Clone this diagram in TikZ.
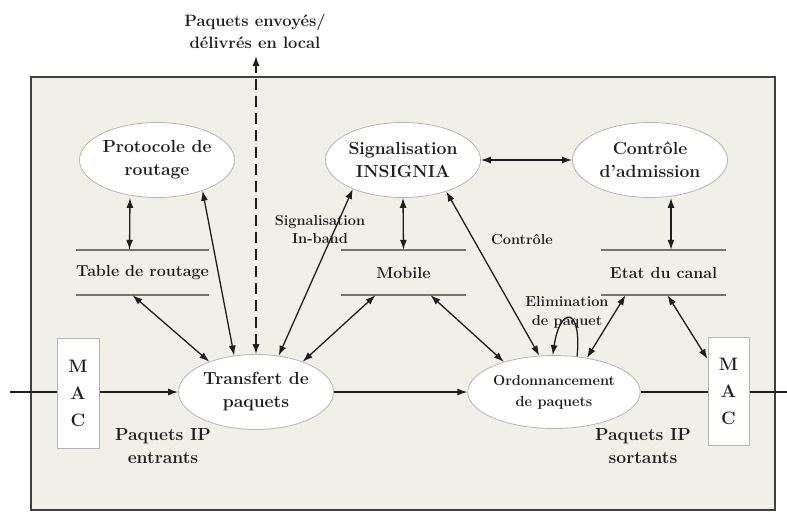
\documentclass[tikz,border=0pt]{standalone}
\usepackage{fontspec}
\usetikzlibrary{arrows.meta,shapes.geometric}

\definecolor{fond}{RGB}{240,240,233}
\definecolor{bord}{RGB}{180,180,178}
\definecolor{trait}{RGB}{115,115,112}
\definecolor{fleche}{RGB}{30,30,30}
\definecolor{texte}{RGB}{30,30,28}

\tikzset{
  >={Latex[length=10pt,width=7pt]},
  proc/.style={ellipse, draw=bord, fill=white, line width=0.8pt, minimum width=155pt,
    minimum height=75pt, inner sep=0pt, align=center, text=texte,
    font=\fontsize{17.5}{23}\selectfont\bfseries},
  store/.style={minimum width=124pt, minimum height=45pt, inner sep=0pt, text=texte,
    font=\fontsize{16}{20}\selectfont\bfseries},
  storeline/.style={draw=trait, line width=2pt},
  mac/.style={rectangle, draw=bord, fill=white, line width=1pt, minimum width=42pt,
    minimum height=110pt, inner sep=0pt, align=center, text=texte,
    font=\fontsize{18}{27}\selectfont\bfseries},
  lab/.style={align=center, text=texte, inner sep=0pt,
    font=\fontsize{14.5}{18}\selectfont\bfseries},
  biglab/.style={lab, font=\fontsize{17.5}{23}\selectfont\bfseries},
  wire/.style={draw=fleche, line width=1.3pt},
  link/.style={wire, <->},
  flow/.style={wire, ->}
}

\begin{document}
\begin{tikzpicture}[x=1pt, y=-1pt]
\useasboundingbox[fill=white] (0,0) rectangle (787,512);
\draw[fill=fond, draw=black!75, line width=2pt] (31,77) rectangle (775,510);

% processus
\node[proc] (proto) at (157,160) {Protocole de\\routage};
\node[proc] (signal) at (403,160) {Signalisation\\INSIGNIA};
\node[proc] (admis) at (650,160) {Contrôle\\d’admission};
\node[proc] (trans) at (256,392) {Transfert de\\paquets};
\node[proc, minimum width=154pt, minimum height=73pt,
  font=\fontsize{14.5}{21}\selectfont\bfseries] (ordo) at (554,392) {Ordonnancement\\de paquets};

% bases
\node[store] (table) at (142.5,272.5) {Table de routage};
\node[store] (mobile) at (403.5,272.5) {Mobile};
\node[store] (etat) at (663.5,272.5) {Etat du canal};
\foreach \s in {table,mobile,etat}
  \draw[storeline] (\s.north west) -- (\s.north east) (\s.south west) -- (\s.south east);

\node[mac] (macL) at (78,393) {M\\A\\C};
\node[mac, minimum width=41pt, minimum height=108pt] (macR) at (728.5,391) {M\\A\\C};

% textes
\node[biglab, font=\fontsize{16.5}{22}\selectfont\bfseries] (envoi) at (255,31) {Paquets envoyés/\\délivrés en local};
\node[lab] (inband) at (320,229) {Signalisation\\In-band};
\node[lab] (ctrl) at (522,239) {Contrôle};
\node[lab, font=\fontsize{14.5}{19}\selectfont\bfseries] (elim) at (567,312) {Elimination\\de paquet};
\node[biglab] (entrants) at (163,446) {Paquets IP\\entrants};
\node[biglab] (sortants) at (643,446) {Paquets IP\\sortants};

\coordinate (local) at (256,56);
\coordinate (entree) at (10,392);
\coordinate (sortie) at (787,392);

% flux principal
\draw[wire] (entree) -- (macL.west |- entree);
\draw[flow] (macL.east |- trans) -- (trans);
\draw[flow] (trans) -- (ordo);
\draw[wire] (ordo) -- (macR.west |- ordo);
\draw[wire] (macR.east |- ordo) -- (sortie);
\draw[link, dash pattern=on 11pt off 6pt] (trans.north) -- (local);

% liens
\draw[link] ([xshift=-13pt]table.north) -- ([xshift=-27pt]proto.south);
\draw[link] (mobile.north) -- (signal.south);
\draw[link] ([xshift=7.5pt]etat.north) -- ([xshift=21pt]admis.south);
\draw[link] (signal) -- (admis);
\draw[link] ([xshift=-10pt]table.south) -- (trans.147);
\draw[link] (proto.-34) -- (trans.121);
\draw[link] (signal.210) -- (trans.58);
\draw[link] ([xshift=-28pt]mobile.south) -- (trans.33);
\draw[link] ([xshift=27pt]mobile.south) -- (ordo.149);
\draw[link] (signal.-36) -- (ordo.112);
\draw[flow] (ordo.57) .. controls (582,306) and (560,306) .. (ordo.92);
\draw[link] ([xshift=-38pt]etat.south) -- (ordo.46);
\draw[link] ([xshift=4pt]etat.south) -- ([yshift=32pt]macR.west);
\end{tikzpicture}
\end{document}
